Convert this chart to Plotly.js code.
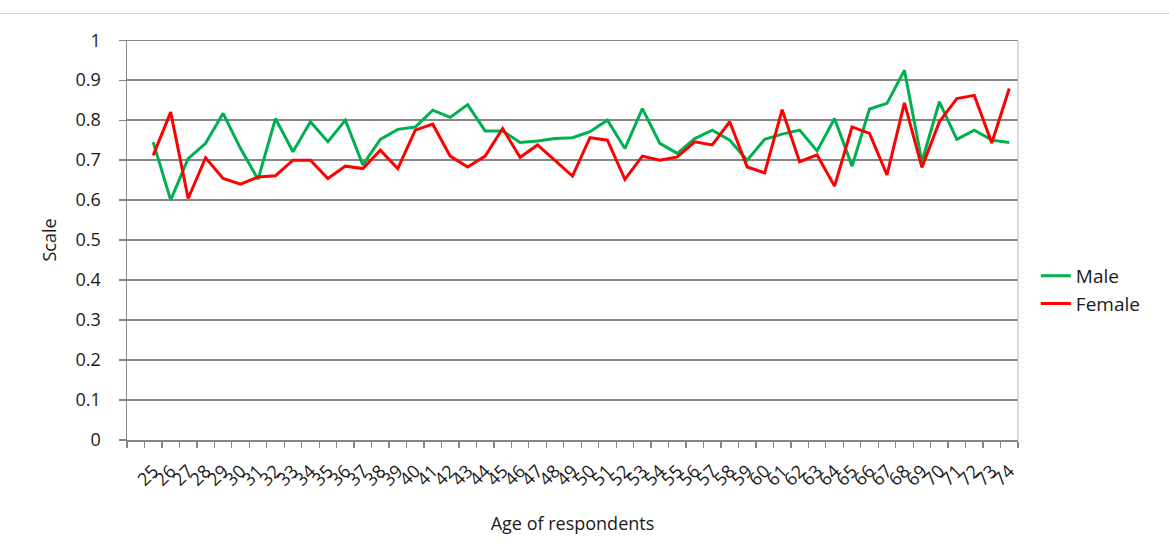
<!DOCTYPE html>
<html>
<head>
<meta charset="utf-8">
<script src="https://cdn.plot.ly/plotly-3.0.1.min.js"></script>
<style>
  html, body { margin: 0; padding: 0; background: #fff; }
  #chart { width: 1169px; height: 559px; }
  #topline { position: absolute; left: 0; top: 13px; width: 1169px; height: 0; border-top: 1px solid #d0d0d0; z-index: 5; }
</style>
</head>
<body>
<div id="topline"></div>
<div id="chart"></div>
<script>
const ages = [25,26,27,28,29,30,31,32,33,34,35,36,37,38,39,40,41,42,43,44,45,46,47,48,49,
              50,51,52,53,54,55,56,57,58,59,60,61,62,63,64,65,66,67,68,69,70,71,72,73,74];
const male = [0.745,0.600,0.704,0.742,0.817,0.729,0.652,0.804,0.721,0.796,0.746,0.800,0.688,0.752,0.777,0.783,0.825,0.807,0.839,0.773,0.773,0.744,0.748,0.754,0.756,
              0.771,0.800,0.729,0.829,0.742,0.717,0.754,0.775,0.750,0.700,0.752,0.765,0.775,0.723,0.804,0.685,0.828,0.842,0.925,0.696,0.846,0.752,0.775,0.750,0.744];
const female = [0.712,0.820,0.604,0.706,0.654,0.640,0.658,0.661,0.700,0.700,0.654,0.685,0.679,0.725,0.679,0.775,0.790,0.710,0.683,0.710,0.779,0.707,0.738,0.700,0.660,
                0.756,0.750,0.652,0.710,0.700,0.708,0.746,0.738,0.796,0.683,0.668,0.826,0.696,0.713,0.635,0.783,0.767,0.663,0.843,0.682,0.796,0.854,0.862,0.743,0.879];
const yTicks = [0,0.1,0.2,0.3,0.4,0.5,0.6,0.7,0.8,0.9,1];
const yTickText = ['0','0.1','0.2','0.3','0.4','0.5','0.6','0.7','0.8','0.9','1'];

const font = 'Open Sans, Noto Sans, DejaVu Sans, sans-serif';

const traces = [
  { x: ages, y: male, name: 'Male', type: 'scatter', mode: 'lines',
    line: { color: '#00B050', width: 3 } },
  { x: ages, y: female, name: 'Female', type: 'scatter', mode: 'lines',
    line: { color: '#FF0000', width: 3 } }
];

const layout = {
  width: 1169, height: 559,
  margin: { l: 127, r: 151, t: 40, b: 119 },
  paper_bgcolor: '#ffffff', plot_bgcolor: '#ffffff',
  font: { family: font, size: 15, color: '#1a1a1a' },
  showlegend: true,
  legend: { x: 1.02, y: 0.375, xanchor: 'left', yanchor: 'middle',
            font: { size: 19, color: '#1a1a1a' }, itemwidth: 30 },
  shapes: [
    { type: 'line', xref: 'paper', yref: 'paper', x0: 1, x1: 1, y0: 0, y1: 1,
      line: { color: '#cfcfcf', width: 1.5 } },
    { type: 'line', xref: 'paper', yref: 'y', x0: 0, x1: 1, y0: 1, y1: 1,
      line: { color: '#868686', width: 1.5 }, layer: 'below' }
  ],
  xaxis: {
    type: 'linear', range: [23.5, 74.5],
    tickmode: 'array', tickvals: ages, ticktext: ages.map(String),
    tickangle: -45, ticks: '', showgrid: false,
    showline: true, linecolor: '#868686', linewidth: 1.5,
    tickfont: { size: 18, color: '#1a1a1a' },
    ticklabelstandoff: 12,
    minor: { tickmode: 'linear', tick0: 23.5, dtick: 1, ticks: 'outside', ticklen: 6,
             tickcolor: '#868686', tickwidth: 1.3, showgrid: false },
    title: { text: 'Age of respondents', font: { size: 18, color: '#1a1a1a' }, standoff: 28 },
    zeroline: false
  },
  yaxis: {
    range: [0, 1.0005], tickmode: 'array', tickvals: yTicks, ticktext: yTickText,
    showgrid: true, gridcolor: '#868686', gridwidth: 1.5,
    showline: true, linecolor: '#868686', linewidth: 1.5,
    ticks: 'outside', ticklen: 7, tickcolor: '#868686', tickwidth: 1.3,
    tickfont: { size: 18, color: '#1a1a1a' },
    ticklabelstandoff: 14,
    title: { text: 'Scale', font: { size: 18, color: '#1a1a1a' }, standoff: 14 },
    zeroline: false
  }
};

Plotly.newPlot('chart', traces, layout, { displayModeBar: false, staticPlot: true });
</script>
</body>
</html>
